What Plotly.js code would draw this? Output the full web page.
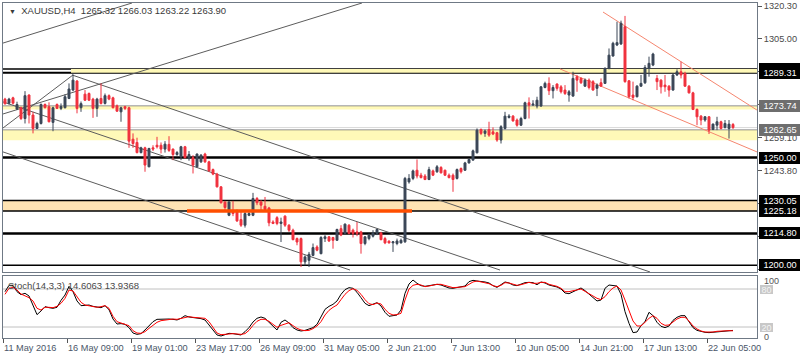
<!DOCTYPE html>
<html><head><meta charset="utf-8">
<script src="https://cdn.plot.ly/plotly-3.0.1.min.js"></script>
<style>html,body{margin:0;padding:0;background:#fff}#chart{width:800px;height:360px}</style>
</head><body><div id="chart"></div>
<script>
// ---- OHLC (XAUUSD H4) ----
const open  = [1277.1,1275.2,1277.7,1272.5,1273.1,1268.1,1279.0,1269.7,1263.5,1265.8,1274.6,1273.6,1266.3,1274.6,1272.8,1273.1,1277.4,1281.3,1285.5,1273.1,1279.4,1279.7,1277.1,1272.8,1277.4,1275.1,1278.7,1277.7,1274.0,1271.2,1273.6,1273.1,1258.5,1257.0,1252.3,1254.5,1245.7,1254.5,1255.7,1255.7,1253.9,1256.1,1253.9,1251.4,1250.3,1255.0,1249.5,1250.0,1245.7,1248.0,1251.6,1248.0,1244.4,1242.3,1236.4,1229.3,1223.2,1225.2,1225.2,1221.2,1218.6,1223.2,1223.2,1231.0,1229.4,1227.4,1226.6,1220.1,1222.1,1219.4,1222.8,1218.6,1216.3,1212.4,1212.4,1201.6,1202.3,1204.6,1208.5,1205.4,1212.4,1213.2,1212.9,1211.6,1217.0,1214.7,1218.6,1216.3,1215.5,1215.5,1210.1,1212.4,1213.5,1214.7,1215.0,1212.4,1211.2,1210.4,1210.1,1210.4,1210.9,1238.7,1240.3,1244.1,1241.8,1241.4,1239.8,1243.8,1243.4,1245.4,1244.1,1241.8,1241.8,1240.3,1244.9,1244.1,1247.5,1248.8,1252.2,1263.0,1261.2,1263.0,1261.9,1261.5,1258.1,1263.5,1268.6,1269.2,1267.4,1265.0,1268.1,1275.4,1274.3,1273.9,1273.9,1282.5,1284.4,1281.0,1284.1,1282.8,1281.3,1279.0,1278.5,1287.5,1286.7,1283.1,1285.9,1285.2,1282.1,1284.7,1284.4,1291.4,1297.1,1302.2,1302.7,1310.7,1285.6,1279.0,1278.2,1283.1,1284.7,1291.4,1292.9,1286.7,1285.9,1283.6,1283.1,1281.3,1288.3,1289.8,1289.0,1283.1,1280.0,1272.3,1269.2,1267.4,1268.9,1263.0,1265.0,1266.6,1263.9,1263.5,1265.32];
const high  = [1277.7,1277.7,1278.2,1275.9,1273.6,1280.8,1279.3,1271.2,1266.6,1275.1,1275.1,1275.6,1273.6,1275.1,1275.1,1279.3,1284.4,1288.6,1285.9,1276.0,1281.3,1280.2,1277.7,1277.7,1284.4,1279.7,1279.3,1278.2,1274.6,1273.6,1274.0,1273.6,1261.2,1259.2,1255.0,1255.0,1254.5,1255.7,1259.6,1257.0,1257.6,1259.9,1254.2,1253.0,1255.4,1255.4,1253.0,1251.1,1251.9,1251.6,1252.2,1248.5,1244.9,1242.9,1236.7,1229.9,1229.9,1229.9,1225.9,1225.2,1224.8,1224.8,1233.6,1231.7,1230.2,1231.7,1227.1,1220.9,1222.8,1222.1,1223.2,1219.1,1217.0,1212.9,1212.9,1204.6,1206.2,1210.1,1209.3,1213.5,1214.0,1213.5,1213.2,1217.0,1218.6,1219.4,1219.1,1217.0,1220.1,1216.0,1213.5,1214.7,1216.3,1217.0,1215.5,1213.2,1211.6,1211.3,1212.4,1212.4,1241.0,1242.3,1244.4,1249.1,1242.9,1242.3,1245.7,1244.4,1246.5,1246.0,1244.4,1242.6,1242.6,1244.9,1245.4,1248.0,1249.6,1253.7,1263.5,1263.5,1263.0,1266.6,1264.0,1261.9,1265.0,1271.2,1270.1,1269.7,1268.1,1268.9,1275.9,1277.9,1276.6,1278.2,1283.2,1285.2,1287.2,1283.6,1284.4,1283.6,1283.6,1281.3,1289.8,1288.3,1287.2,1286.7,1286.7,1285.9,1284.4,1286.7,1291.8,1300.6,1303.7,1313.0,1313.5,1315.7,1285.9,1285.2,1283.6,1288.3,1292.9,1296.8,1298.6,1288.3,1286.3,1288.3,1283.6,1289.0,1290.9,1294.5,1289.8,1283.6,1280.5,1272.8,1269.7,1269.2,1269.2,1265.8,1268.9,1267.1,1267.4,1267.4,1266.03];
const low   = [1274.6,1274.6,1274.6,1272.0,1267.4,1265.8,1265.8,1261.2,1263.2,1265.3,1272.8,1266.3,1262.2,1272.5,1272.0,1272.8,1277.1,1280.8,1270.5,1271.2,1276.2,1276.2,1268.4,1268.9,1274.6,1274.6,1276.6,1272.8,1271.2,1266.6,1272.0,1254.5,1254.5,1251.9,1251.9,1243.4,1245.5,1253.0,1254.2,1251.9,1252.3,1252.6,1248.8,1250.8,1248.8,1249.6,1248.5,1242.6,1245.4,1247.5,1247.5,1243.4,1241.8,1236.1,1228.7,1225.6,1222.8,1222.8,1220.1,1217.8,1217.5,1222.8,1222.8,1227.9,1225.6,1225.6,1218.1,1219.1,1218.6,1210.8,1217.8,1215.5,1211.6,1209.3,1199.2,1200.0,1199.2,1204.2,1206.5,1205.1,1210.8,1210.8,1207.7,1211.3,1213.5,1214.4,1214.4,1212.9,1213.5,1205.4,1209.3,1211.6,1212.9,1214.0,1211.6,1209.8,1210.1,1206.2,1209.3,1210.1,1210.4,1237.9,1239.5,1240.3,1240.3,1239.5,1239.5,1241.4,1242.9,1242.6,1241.4,1240.3,1234.1,1239.8,1242.6,1243.8,1247.2,1248.5,1251.9,1260.4,1259.6,1259.6,1260.4,1257.3,1256.5,1263.0,1268.1,1266.6,1264.3,1264.6,1267.7,1268.1,1274.3,1272.8,1273.5,1282.1,1279.0,1277.4,1281.0,1279.7,1279.0,1275.9,1278.2,1280.5,1284.1,1282.8,1281.6,1281.0,1278.5,1282.8,1284.1,1290.9,1296.8,1301.7,1302.2,1284.7,1277.4,1276.6,1277.9,1282.8,1284.1,1287.5,1292.4,1281.3,1279.7,1280.5,1278.2,1281.0,1287.8,1286.7,1282.8,1279.7,1272.0,1265.0,1265.0,1266.6,1260.9,1262.7,1262.7,1263.0,1263.5,1258.8,1263.22];
const close = [1274.9,1277.1,1275.2,1274.6,1268.1,1278.7,1269.7,1263.5,1265.8,1274.6,1273.1,1266.6,1273.1,1272.8,1273.7,1278.2,1281.8,1285.9,1272.8,1275.0,1276.6,1276.6,1272.8,1277.1,1275.1,1278.7,1277.1,1273.1,1271.5,1273.1,1272.8,1257.6,1256.5,1252.3,1254.5,1246.5,1254.2,1253.9,1255.0,1253.9,1256.2,1253.3,1251.4,1252.3,1255.0,1249.9,1251.4,1246.5,1251.6,1251.1,1248.0,1243.8,1242.3,1236.4,1229.0,1226.8,1229.4,1224.0,1220.6,1218.6,1224.0,1224.0,1231.0,1229.0,1227.9,1225.9,1219.7,1219.4,1219.4,1220.1,1218.6,1216.3,1211.9,1210.8,1201.6,1203.9,1205.1,1208.2,1207.0,1212.9,1213.2,1211.3,1211.6,1216.6,1214.0,1219.1,1214.7,1214.7,1214.7,1210.1,1213.2,1214.0,1215.0,1216.6,1211.9,1210.4,1210.4,1210.9,1211.3,1211.6,1240.3,1240.3,1243.8,1241.4,1240.7,1239.8,1244.4,1241.8,1245.7,1242.9,1241.8,1240.7,1239.8,1244.4,1243.4,1247.5,1249.1,1253.1,1262.7,1261.2,1262.3,1260.4,1260.9,1258.1,1264.3,1269.2,1269.2,1267.0,1265.0,1268.1,1275.4,1274.3,1274.8,1276.6,1282.8,1284.4,1281.0,1282.5,1282.1,1280.5,1279.7,1280.5,1286.7,1285.9,1284.7,1285.9,1282.5,1281.3,1283.6,1283.1,1291.4,1297.5,1303.0,1303.3,1312.3,1285.2,1278.2,1277.9,1283.1,1284.4,1291.8,1293.7,1298.0,1285.2,1282.8,1282.8,1281.3,1288.3,1289.8,1288.3,1283.1,1280.0,1272.3,1268.9,1267.4,1268.9,1262.7,1265.5,1266.6,1263.5,1265.8,1265.5,1263.90];

// ---- Stochastic (14,3,3) ----
const stochMain = [75.8,85.8,85.8,75.8,71.1,73.2,69.0,54.7,39.5,45.3,52.1,50.5,49.5,51.1,62.1,70.5,84.2,75.8,61.1,53.7,53.7,54.7,52.6,51.1,50.5,53.7,47.4,32.6,24.7,25.3,24.2,19.0,10.5,8.4,9.5,15.3,21.6,28.4,32.1,32.6,32.6,32.6,32.1,31.1,33.7,37.9,35.8,34.7,34.7,33.2,31.1,23.2,13.7,7.4,5.8,8.4,10.0,9.5,8.4,7.4,12.6,19.0,27.9,33.7,35.8,33.7,27.4,20.5,15.3,27.4,31.1,26.3,19.0,15.3,13.7,14.7,16.3,19.0,24.2,37.4,47.9,52.6,55.8,61.1,71.6,79.0,82.1,81.1,74.8,66.3,57.4,53.7,55.8,58.4,53.2,43.2,36.9,37.4,38.9,46.8,73.2,87.9,94.2,89.0,85.3,84.2,85.3,87.4,87.4,86.3,84.2,81.6,81.1,82.1,82.6,84.7,91.6,93.7,92.6,92.1,91.1,89.5,85.3,82.6,86.8,91.1,89.5,86.3,85.3,87.4,90.0,90.5,90.0,86.8,91.1,89.5,86.3,84.7,83.2,80.0,73.7,72.6,75.8,78.4,81.6,77.4,71.6,66.8,61.1,62.6,81.1,86.3,85.3,84.7,71.6,44.2,25.8,11.1,12.1,22.1,28.4,43.2,37.9,27.4,21.1,19.0,21.6,30.5,35.3,37.9,37.9,28.4,19.0,14.7,12.6,11.6,11.1,11.6,12.6,13.7,14.2,14.3,14.6063];
const stochSignal = [71.6,81.1,82.6,78.4,72.1,69.0,66.3,61.1,49.5,46.8,51.1,51.1,50.5,52.6,57.4,65.3,78.4,76.8,67.4,59.0,54.7,53.7,52.1,51.1,52.1,53.7,49.5,36.9,28.4,26.3,24.7,22.1,14.2,10.5,10.0,12.6,17.9,23.2,27.4,30.0,31.1,32.1,32.6,32.1,33.7,35.3,36.3,35.3,34.7,34.2,33.7,28.4,19.5,10.5,7.9,7.9,8.9,9.5,8.9,8.4,9.5,14.7,22.6,29.0,32.1,32.1,29.0,23.7,19.5,22.6,25.3,26.8,22.1,17.9,15.3,14.2,14.7,17.4,21.6,28.4,39.0,46.3,51.1,54.7,63.2,71.6,77.4,80.5,77.9,71.6,63.2,56.8,55.3,57.9,56.3,47.9,41.6,39.0,39.5,41.6,62.6,80.0,85.8,87.4,86.3,83.7,84.7,86.3,87.4,87.4,85.3,83.2,82.1,82.6,83.2,83.7,87.4,91.1,92.6,91.6,90.5,88.4,85.3,83.7,85.8,90.0,89.5,87.4,85.8,86.8,89.0,90.5,89.0,89.0,90.5,90.5,87.4,85.8,84.2,81.1,75.8,75.8,77.4,78.4,80.0,76.3,72.6,67.9,65.3,63.2,67.9,75.8,81.6,84.7,78.4,62.6,46.8,29.5,21.6,21.6,27.4,33.7,37.9,33.7,25.8,22.6,23.2,28.4,32.6,35.3,35.3,29.5,21.6,16.8,13.7,12.1,11.6,12.1,13.2,13.7,14.2,14.2,13.9368];

// ---- time axis labels (every 16 bars) ----
const timeLabels = ["11 May 2016","16 May 09:00","19 May 01:00","23 May 17:00","26 May 09:00","31 May 05:00","2 Jun 21:00","7 Jun 13:00","10 Jun 05:00","14 Jun 21:00","17 Jun 13:00","22 Jun 05:00"];
const labelEvery = 16;

// ---- price scale ticks (labels hidden where the reference's level boxes cover them) ----
const priceTicks = [1320.30,1305.00,1289.70,1274.40,1259.10,1243.80,1228.50,1213.20,1197.90];
const priceTickShown = [true,true,false,false,true,true,false,false,false];

// ---- horizontal levels ----
const blackLevels = [1291.02,1289.31,1250.00,1230.05,1225.18,1214.80,1200.00];
const blackWidths = [1.5,2,2.5,1.5,1.5,2.5,1.5];
const grayLevels = [1273.74,1262.65];
const yellowZones = [[1289.31,1291.02,16.5],[1272.30,1273.74,-0.5],[1258.00,1262.65,-0.5]];
const orangeZone = [1225.18,1230.05];
const breakLine = [45.5,101.75,1225.18];
const bidPrice = 1263.90;

// ---- trend lines [barA, priceA, barB, priceB] ----
const grayTrend = [[-0.5,1303.1,31.75,1321.7],[-0.5,1270.2,89.25,1321.7],[-0.5,1263.7,17,1288.3],[16.75,1288.3,161.25,1196.9],[-0.5,1275.8,123.75,1197.8],[-0.5,1252.6,86.25,1197.8]];
const redTrend = [[149.5,1317.5,188,1272.0],[138.75,1291.1,188,1252.6]];

// ---- right-side price boxes ----
const boxPrices = [1291.02,1289.31,1273.74,1262.65,1250.00,1230.05,1225.18,1214.80,1200.00];
const boxTexts  = ["","1289.31","1273.74","1262.65","1250.00","1230.05","1225.18","1214.80","1200.00"];
const boxColors = ["#000","#000","#6e6e6e","#6e6e6e","#000","#000","#000","#000","#000"];

const bars = open.map((_, k) => k);
const XR = [-0.5, 188];
const FONT = "Liberation Sans, Arial, sans-serif";

const traces = [
  {type:'candlestick', x:bars, open:open, high:high, low:low, close:close, xaxis:'x', yaxis:'y',
   increasing:{line:{color:'#3b4757',width:1},fillcolor:'#3b4757'},
   decreasing:{line:{color:'#f0313e',width:1},fillcolor:'#f0313e'},
   whiskerwidth:0, hoverinfo:'skip', showlegend:false},
  {type:'scatter', mode:'lines', x:bars, y:stochMain, xaxis:'x2', yaxis:'y2', line:{color:'#000',width:1}, hoverinfo:'skip', showlegend:false},
  {type:'scatter', mode:'lines', x:bars, y:stochSignal, xaxis:'x2', yaxis:'y2', line:{color:'#ff0000',width:1}, hoverinfo:'skip', showlegend:false}
];

const shapes = [];
yellowZones.forEach(z => shapes.push({type:'rect', xref:'x', yref:'y', x0:z[2], x1:XR[1], y0:z[0], y1:z[1], fillcolor:'#fff9b8', line:{width:0}, layer:'below'}));
shapes.push({type:'rect', xref:'x domain', yref:'y', x0:0, x1:1, y0:orangeZone[0], y1:orangeZone[1], fillcolor:'#fee3b3', line:{width:0}, layer:'below'});
shapes.push({type:'line', xref:'x domain', yref:'y', x0:0, x1:1, y0:bidPrice, y1:bidPrice, line:{color:'#dadada',width:1}, layer:'below'});
grayLevels.forEach(p => shapes.push({type:'line', xref:'x domain', yref:'y', x0:0, x1:1, y0:p, y1:p, line:{color:'#6e6e6e',width:1.5}, layer:'below'}));
blackLevels.forEach((p,k) => shapes.push({type:'line', xref:'x domain', yref:'y', x0:0, x1:1, y0:p, y1:p, line:{color:'#000',width:blackWidths[k]}, layer:'below'}));
grayTrend.forEach(t => shapes.push({type:'line', xref:'x', yref:'y', x0:t[0], y0:t[1], x1:t[2], y1:t[3], line:{color:'#5c5c5c',width:1}, layer:'below'}));
redTrend.forEach(t => shapes.push({type:'line', xref:'x', yref:'y', x0:t[0], y0:t[1], x1:t[2], y1:t[3], line:{color:'#f5866f',width:1}, layer:'below'}));
shapes.push({type:'line', xref:'x', yref:'y', x0:breakLine[0], x1:breakLine[1], y0:breakLine[2], y1:breakLine[2], line:{color:'#ff4e00',width:3.5}});
[80,20].forEach(v => shapes.push({type:'line', xref:'x2 domain', yref:'y2', x0:0, x1:1, y0:v, y1:v, line:{color:'#c0c0c0',width:1}, layer:'below'}));

const annotations = [];
annotations.push({xref:'paper', yref:'paper', x:7/800, y:1-10/360, xanchor:'left', yanchor:'middle', showarrow:false,
  text:'<span style="font-size:7px">▼</span>  XAUUSD,H4  1265.32 1266.03 1263.22 1263.90', font:{family:FONT,size:9.5,color:'#3a3a3a'}});
annotations.push({xref:'paper', yref:'paper', x:6/800, y:1-285/360, xanchor:'left', yanchor:'middle', showarrow:false,
  text:'Stoch(14,3,3) 14.6063 13.9368', font:{family:FONT,size:9.5,color:'#4a4a4a'}});
timeLabels.forEach((t,k) => annotations.push({xref:'x2', yref:'paper', x:k*labelEvery-0.5, y:(360-348)/360, xanchor:'left', yanchor:'middle', showarrow:false, xshift:-1,
  text:t, font:{family:FONT,size:9.2,color:'#4a5668'}}));
boxPrices.forEach((p,k) => annotations.push({xref:'paper', yref:'y', x:757.5/800, y:p, xanchor:'left', yanchor:'middle', showarrow:false,
  text:boxTexts[k] || ' ', bgcolor:boxColors[k], borderpad:0, borderwidth:0, width:42, height:12, align:'center', xshift:1,
  font:{family:FONT,size:9.2,color:'#ffffff'}}));
[80,20].forEach(v => annotations.push({xref:'paper', yref:'y2', x:760/800, y:v, xanchor:'left', yanchor:'middle', showarrow:false, text:String(v),
  bgcolor:'#c8c8c8', width:13, height:9, borderpad:0, borderwidth:0, font:{family:FONT,size:9,color:'#f4f4f4'}}));
annotations.push({xref:'paper', yref:'paper', x:762/800, y:1-280.5/360, xanchor:'left', yanchor:'middle', showarrow:false, text:'100', font:{family:FONT,size:9,color:'#555'}});
annotations.push({xref:'paper', yref:'paper', x:762/800, y:1-336.5/360, xanchor:'left', yanchor:'middle', showarrow:false, text:'0', font:{family:FONT,size:9,color:'#555'}});

const axLine = '#6f7985';
const layout = {
  width:800, height:360, margin:{l:0,r:0,t:0,b:0}, paper_bgcolor:'#fff', plot_bgcolor:'#fff', showlegend:false,
  xaxis:{domain:[3/800,757/800], range:XR, anchor:'y', showline:true, mirror:true, linecolor:axLine, linewidth:1,
         showticklabels:false, ticks:'', showgrid:false, zeroline:false, rangeslider:{visible:false}, fixedrange:true},
  yaxis:{domain:[88/360,357/360], range:[1196.89,1321.69], anchor:'x', side:'right', showline:true, mirror:true, linecolor:axLine,
         tickvals:priceTicks, ticktext:priceTicks.map((v,k)=>priceTickShown[k] ? v.toFixed(2) : ''), ticks:'outside', ticklen:4, tickcolor:'#555',
         tickfont:{family:FONT,size:9.2,color:'#4a4a4a'}, showgrid:false, zeroline:false, fixedrange:true},
  xaxis2:{domain:[3/800,757/800], range:XR, anchor:'y2', showline:true, mirror:true, linecolor:axLine,
          tickvals:timeLabels.map((_,k)=>k*labelEvery-0.5), ticks:'outside', ticklen:4, tickcolor:'#555', showticklabels:false,
          showgrid:false, zeroline:false, fixedrange:true},
  yaxis2:{domain:[22/360,84/360], range:[2.63,100.53], anchor:'x2', side:'right', showline:true, mirror:true, linecolor:axLine,
          showticklabels:false, ticks:'', showgrid:false, zeroline:false, fixedrange:true},
  shapes:shapes, annotations:annotations
};
Plotly.newPlot('chart', traces, layout, {staticPlot:true, displayModeBar:false});
</script></body></html>
